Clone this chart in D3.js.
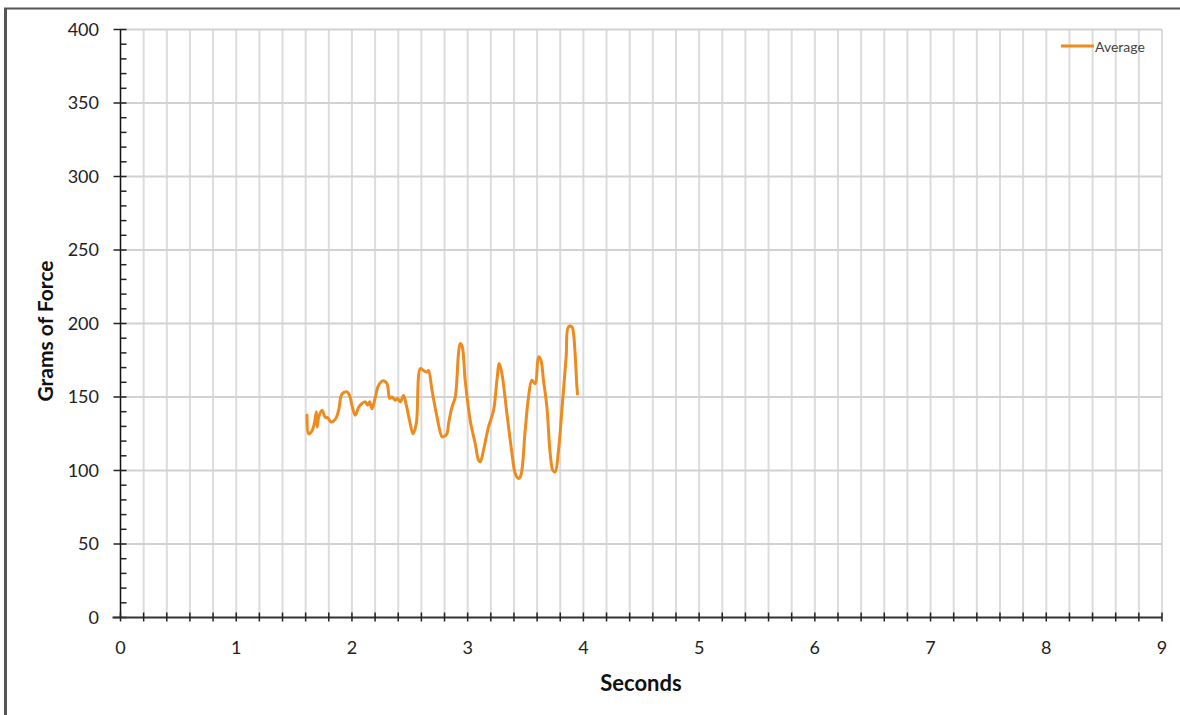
<!DOCTYPE html>
<html>
<head>
<meta charset="utf-8">
<script src="https://cdn.jsdelivr.net/npm/d3@7"></script>
<style>
  html, body { margin: 0; padding: 0; background: #fff; }
  svg { display: block; }
  text { font-family: Lato, "Open Sans", sans-serif; }
</style>
</head>
<body>
<svg id="chart" width="1180" height="715"></svg>
<script>
// Force trace (grams) sampled over time (seconds)
const seconds = [1.612, 1.626, 1.655, 1.675, 1.693, 1.699, 1.712, 1.742, 1.770, 1.790,
  1.820, 1.857, 1.885, 1.914, 1.958, 1.980, 2.001, 2.029, 2.058, 2.087,
  2.116, 2.136, 2.153, 2.174, 2.202, 2.231, 2.269, 2.303, 2.326, 2.346,
  2.375, 2.395, 2.418, 2.446, 2.470, 2.498, 2.528, 2.556, 2.591, 2.619,
  2.649, 2.662, 2.692, 2.735, 2.778, 2.792, 2.821, 2.835, 2.864, 2.893,
  2.921, 2.936, 2.951, 2.979, 3.022, 3.066, 3.094, 3.109, 3.137, 3.180,
  3.224, 3.253, 3.273, 3.296, 3.339, 3.383, 3.411, 3.440, 3.460, 3.497,
  3.526, 3.555, 3.584, 3.612, 3.633, 3.655, 3.685, 3.713, 3.736, 3.756,
  3.785, 3.814, 3.851, 3.871, 3.901, 3.915, 3.944, 3.949];
const grams = [137.6, 125, 127, 132, 140, 129.6, 136, 141, 136, 136,
  133, 135, 141, 152, 153.5, 151, 144, 137.6, 143, 145.6,
  146.7, 144.4, 146.7, 142, 150, 158, 161, 159, 149, 150,
  147.8, 149, 146.7, 151, 144.4, 134, 125, 132, 169.4, 168,
  167, 168, 154.6, 136.5, 123, 123, 125, 132, 143, 150,
  179.6, 186.4, 185, 161, 134, 118, 107, 105.9, 113.8, 129.7,
  141, 161.4, 172.8, 166, 138.8, 111.6, 98, 94.6, 96.8, 127.4,
  150, 161.4, 159, 177.3, 175, 161.4, 143, 111.6, 100.2, 99,
  113.8, 141, 177.3, 197.7, 197.7, 193, 157, 152];

const seriesName = "Average";
const xTickLabels = [0, 1, 2, 3, 4, 5, 6, 7, 8, 9];
const yTickLabels = [0, 50, 100, 150, 200, 250, 300, 350, 400];
const xAxisTitle = "Seconds";
const yAxisTitle = "Grams of Force";

const svg = d3.select("#chart");
const plot = { left: 120.5, right: 1162, top: 29.5, bottom: 617.5 };

const x = d3.scaleLinear().domain([0, 9]).range([plot.left, plot.right]);
const y = d3.scaleLinear().domain([0, 400]).range([plot.bottom, plot.top]);

// outer frame (top and left edges)
svg.append("line").attr("x1", 4).attr("x2", 1180).attr("y1", 8.5).attr("y2", 8.5)
  .attr("stroke", "#555").attr("stroke-width", 2);
svg.append("line").attr("x1", 5.5).attr("x2", 5.5).attr("y1", 8).attr("y2", 715)
  .attr("stroke", "#555").attr("stroke-width", 3);

// minor vertical grid every 0.2 s
const vGrid = d3.range(1, 46).map(i => i * 0.2);
svg.append("g").selectAll("line").data(vGrid).join("line")
  .attr("x1", d => x(d)).attr("x2", d => x(d))
  .attr("y1", plot.top).attr("y2", plot.bottom)
  .attr("stroke", "#dcdcdc").attr("stroke-width", 2);

// horizontal grid every 50 g
svg.append("g").selectAll("line").data(yTickLabels.filter(d => d > 0)).join("line")
  .attr("x1", plot.left).attr("x2", plot.right)
  .attr("y1", d => y(d)).attr("y2", d => y(d))
  .attr("stroke", "#d2d2d2").attr("stroke-width", 2);

// y axis: major ticks cross the line, minor ticks every 10 on the inside
const yAxis = svg.append("g");
yAxis.append("line").attr("x1", plot.left).attr("x2", plot.left)
  .attr("y1", plot.top).attr("y2", plot.bottom).attr("stroke", "#111").attr("stroke-width", 1.5);
yAxis.selectAll(".minor").data(d3.range(0, 401, 10).filter(d => d % 50 !== 0)).join("line")
  .attr("class", "minor")
  .attr("x1", plot.left).attr("x2", plot.left + 6)
  .attr("y1", d => y(d)).attr("y2", d => y(d))
  .attr("stroke", "#222").attr("stroke-width", 1.5);
yAxis.selectAll(".major").data(yTickLabels).join("line")
  .attr("class", "major")
  .attr("x1", plot.left - 7).attr("x2", plot.left + 6)
  .attr("y1", d => y(d)).attr("y2", d => y(d))
  .attr("stroke", "#222").attr("stroke-width", 1.5);
yAxis.selectAll("text").data(yTickLabels).join("text")
  .attr("x", 99).attr("y", d => y(d)).attr("dy", "0.36em")
  .attr("text-anchor", "end").attr("font-size", 18).attr("fill", "#222")
  .text(d => d);

// x axis with ticks every 0.2 s
const xAxis = svg.append("g");
xAxis.append("line").attr("x1", plot.left - 8).attr("x2", plot.right)
  .attr("y1", plot.bottom).attr("y2", plot.bottom).attr("stroke", "#333").attr("stroke-width", 2);
xAxis.selectAll(".tk").data(d3.range(0, 46).map(i => i * 0.2)).join("line")
  .attr("class", "tk")
  .attr("x1", d => x(d)).attr("x2", d => x(d))
  .attr("y1", plot.bottom - 5).attr("y2", plot.bottom + 4)
  .attr("stroke", "#222").attr("stroke-width", 1.5);
xAxis.selectAll("text").data(xTickLabels).join("text")
  .attr("x", d => x(d)).attr("y", 654)
  .attr("text-anchor", "middle").attr("font-size", 18).attr("fill", "#222")
  .text(d => d);

// axis titles
svg.append("text").attr("x", 641).attr("y", 691)
  .attr("text-anchor", "middle").attr("font-size", 22).attr("font-weight", "bold").attr("fill", "#111")
  .text(xAxisTitle);
svg.append("text").attr("transform", "translate(53,331) rotate(-90)")
  .attr("text-anchor", "middle").attr("font-size", 21).attr("font-weight", "bold").attr("fill", "#111")
  .text(yAxisTitle);

// data line
const pts = seconds.map((t, i) => [t, grams[i]]);
svg.append("path").datum(pts)
  .attr("d", d3.line().x(d => x(d[0])).y(d => y(d[1])).curve(d3.curveCatmullRom.alpha(0.5)))
  .attr("fill", "none").attr("stroke", "#ED8B1E").attr("stroke-width", 3)
  .attr("stroke-linejoin", "round").attr("stroke-linecap", "round");

// legend
const lg = svg.append("g");
lg.append("line").attr("x1", 1061).attr("x2", 1094).attr("y1", 46).attr("y2", 46)
  .attr("stroke", "#ED8B1E").attr("stroke-width", 3);
lg.append("text").attr("x", 1095).attr("y", 47).attr("dy", "0.36em")
  .attr("font-size", 14).attr("fill", "#444").text(seriesName);
</script>
</body>
</html>
